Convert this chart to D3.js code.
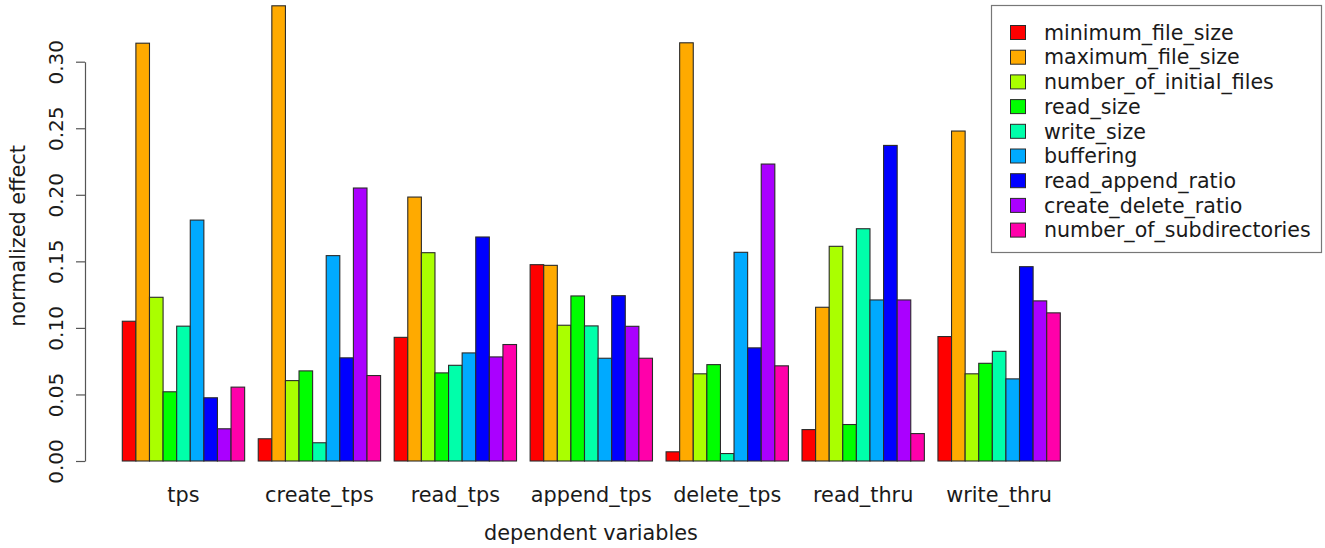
<!DOCTYPE html>
<html><head><meta charset="utf-8">
<script src="https://cdn.jsdelivr.net/npm/d3@7"></script>
<style>body{margin:0;background:#fff}svg{display:block}text{font-family:"DejaVu Sans",sans-serif;fill:#1a1a1a}</style>
</head><body><svg id="c" width="1325" height="548"></svg>
<script>
const categories = ["tps","create_tps","read_tps","append_tps","delete_tps","read_thru","write_thru"];
const seriesNames = ["minimum_file_size","maximum_file_size","number_of_initial_files","read_size","write_size","buffering","read_append_ratio","create_delete_ratio","number_of_subdirectories"];
const seriesColors = ["#FF0000","#FFAA00","#AAFF00","#00FF00","#00FFAA","#00AAFF","#0000FF","#AA00FF","#FF00AA"];
const minimum_file_size       = [0.105, 0.0167, 0.0929, 0.1475, 0.0069, 0.0236, 0.0935];
const maximum_file_size       = [0.3139, 0.342, 0.1983, 0.147, 0.3142, 0.1155, 0.2479];
const number_of_initial_files = [0.123, 0.0604, 0.1565, 0.102, 0.0655, 0.1613, 0.0655];
const read_size               = [0.052, 0.0677, 0.0662, 0.124, 0.0724, 0.0274, 0.0734];
const write_size              = [0.1013, 0.0137, 0.0719, 0.1015, 0.0056, 0.1745, 0.0824];
const buffering               = [0.181, 0.1543, 0.0812, 0.0772, 0.1568, 0.121, 0.0617];
const read_append_ratio       = [0.0475, 0.0775, 0.1683, 0.1242, 0.085, 0.2371, 0.146];
const create_delete_ratio     = [0.0242, 0.2051, 0.0782, 0.1012, 0.2231, 0.121, 0.1203];
const number_of_subdirectories= [0.0555, 0.0642, 0.0875, 0.0772, 0.0715, 0.0206, 0.1113];
const yTicks = [0, 0.05, 0.10, 0.15, 0.20, 0.25, 0.30];
const xTitle = "dependent variables", yTitle = "normalized effect";

const seriesValues = [minimum_file_size, maximum_file_size, number_of_initial_files, read_size, write_size, buffering, read_append_ratio, create_delete_ratio, number_of_subdirectories];

const svg = d3.select("#c");
const x0 = d3.scaleBand().domain(categories).range([122.3, 1060.3]).paddingInner(0.1).paddingOuter(0);
const x1 = d3.scaleBand().domain(seriesNames).range([0, x0.bandwidth()]).padding(0);
const y = d3.scaleLinear().domain([0, 0.30]).range([461, 61.7]);
const color = d3.scaleOrdinal().domain(seriesNames).range(seriesColors);

// bars
const g = svg.append("g");
categories.forEach((cat, ci) => {
  const gg = g.append("g").attr("transform", `translate(${x0(cat)},0)`);
  gg.selectAll("rect").data(seriesNames.map((s, si) => ({s, v: seriesValues[si][ci]})))
    .join("rect")
    .attr("x", d => x1(d.s))
    .attr("width", x1.bandwidth())
    .attr("y", d => y(d.v))
    .attr("height", d => y(0) - y(d.v))
    .attr("fill", d => color(d.s))
    .attr("stroke", "#2a2a2a").attr("stroke-width", 1.1);
});

// y axis
const ax = svg.append("g").attr("transform", "translate(85,0)")
  .call(d3.axisLeft(y).tickValues(yTicks).tickFormat(d3.format(".2f")).tickSize(9).tickSizeOuter(0));
ax.select(".domain").attr("stroke", "#555").attr("stroke-width", 1.2);
ax.selectAll(".tick line").attr("stroke", "#555").attr("stroke-width", 1.2);
ax.selectAll(".tick text")
  .attr("font-size", 20).attr("font-family", "DejaVu Sans").attr("fill", "#1a1a1a")
  .attr("x", 0).attr("text-anchor", "middle")
  .attr("transform", "translate(-29.5,0) rotate(-90)")
  .attr("dy", "0.35em");

// category labels
svg.append("g").selectAll("text").data(categories).join("text")
  .attr("x", d => x0(d) + x0.bandwidth() / 2)
  .attr("y", 502).attr("text-anchor", "middle").attr("font-size", 20.8).text(d => d);

svg.append("text").attr("x", 591).attr("y", 540).attr("text-anchor", "middle").attr("font-size", 20.8).text(xTitle);
svg.append("text").attr("transform", "translate(25,236) rotate(-90)").attr("text-anchor", "middle").attr("font-size", 20.8).text(yTitle);

// legend
const lg = svg.append("g");
lg.append("rect").attr("x", 991.5).attr("y", 5.5).attr("width", 330).attr("height", 247)
  .attr("fill", "#fff").attr("stroke", "#777").attr("stroke-width", 1.2);
const rows = lg.selectAll("g.row").data(seriesNames).join("g").attr("class", "row")
  .attr("transform", (d, i) => `translate(0,${32.5 + i * 24.7})`);
rows.append("rect").attr("x", 1010.5).attr("y", -7).attr("width", 15).attr("height", 14)
  .attr("fill", d => color(d)).attr("stroke", "#2a2a2a").attr("stroke-width", 1);
rows.append("text").attr("x", 1044).attr("y", 0).attr("dy", "0.35em").attr("font-size", 20.6).text(d => d);
</script></body></html>
